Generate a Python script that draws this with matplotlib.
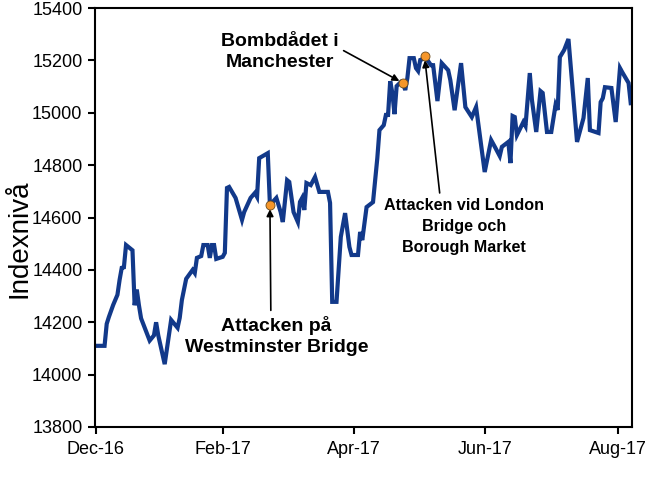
import matplotlib
matplotlib.use("Agg")
import matplotlib.pyplot as plt
import matplotlib.dates as mdates
import numpy as np
import pandas as pd

plt.rcParams['font.family'] = ['Liberation Sans', 'DejaVu Sans']

# Data
start_date = "2016-12-31"
day_offsets = [0, 4, 5, 6, 8, 10, 11, 12, 13, 14, 17, 18, 19, 20, 21, 25, 27, 28, 29, 32,
               35, 38, 39, 40, 42, 45, 46, 47, 49, 50, 52, 53, 54, 55, 56, 59, 60, 61, 62, 65,
               68, 69, 72, 74, 75, 76, 80, 81, 84, 86, 87, 89, 90, 92, 94, 95, 96, 97, 98, 100,
               102, 104, 108, 109, 110, 112, 114, 116, 118, 119, 122, 123, 124, 126, 129, 131, 132, 134, 135, 136,
               137, 138, 139, 140, 142, 143, 144, 145, 146, 148, 149, 150, 151, 152, 153, 156, 157, 159, 161, 164,
               165, 167, 170, 172, 175, 177, 181, 184, 186, 188, 189, 192, 193, 194, 195, 196, 199, 200, 202, 203,
               205, 207, 208, 210, 212, 214, 215, 216, 218, 220, 224, 227, 229, 230, 234, 235, 236, 237, 240, 242,
               244, 245, 248, 249]
index_values = [14110, 14110, 14194, 14220, 14266, 14305, 14362, 14408, 14410, 14495, 14475, 14265, 14325, 14265, 14215, 14130, 14150, 14200, 14150, 14040,
                14209, 14179, 14217, 14285, 14366, 14400, 14388, 14446, 14453, 14495, 14495, 14446, 14495, 14495, 14442, 14450, 14465, 14713, 14717, 14675,
                14591, 14621, 14675, 14694, 14679, 14827, 14846, 14648, 14675, 14621, 14583, 14743, 14736, 14621, 14583, 14660, 14675, 14629, 14732, 14724,
                14755, 14698, 14698, 14656, 14278, 14278, 14526, 14617, 14488, 14457, 14457, 14545, 14514, 14640, 14659, 14827, 14934, 14953, 14992, 14992,
                15121, 15076, 14995, 15102, 15118, 15114, 15087, 15133, 15209, 15209, 15171, 15160, 15202, 15205, 15217, 15182, 15182, 15045, 15190, 15163,
                15125, 15010, 15190, 15022, 14984, 15022, 14774, 14896, 14866, 14835, 14870, 14889, 14808, 14988, 14984, 14915, 14965, 14950, 15152, 15049,
                14927, 15083, 15076, 14927, 14927, 15030, 15011, 15213, 15240, 15282, 14889, 14980, 15133, 14934, 14923, 15041, 15056, 15098, 15095, 14965,
                15171, 15156, 15114, 15037]

event_days = [81, 143, 153]
event_labels = ["Attacken på\nWestminster Bridge", "Bombdådet i\nManchester",
                "Attacken vid London\nBridge och\nBorough Market"]
tick_dates = ["2016-12-31", "2017-02-28", "2017-04-30", "2017-06-30", "2017-08-31"]
y_ticks = list(range(13800, 15401, 200))
y_label = "Indexnivå"

dates = pd.Timestamp(start_date) + pd.to_timedelta(day_offsets, unit="D")
series = pd.Series(index_values, index=dates)
ev_dates = pd.Timestamp(start_date) + pd.to_timedelta(event_days, unit="D")
ev_vals = [series[d] for d in ev_dates]

fig = plt.figure(figsize=(6.5, 4.79), dpi=100)
ax = fig.add_axes([0.146, 0.1086, 0.826, 0.8744])

ax.plot(series.index, series.values, color="#12398a", lw=3.0, solid_joinstyle="miter", zorder=2)
ax.scatter(ev_dates, ev_vals, s=42, color="#f5962a", edgecolor="#6b4a1a", linewidth=0.6, zorder=4)

ax.set_ylim(13800, 15400)
ax.set_yticks(y_ticks)
x0 = pd.Timestamp(start_date) - pd.Timedelta(days=0.5)
x1 = pd.Timestamp(start_date) + pd.Timedelta(days=249.5)
ax.set_xlim(x0, x1)
ax.set_xticks(pd.to_datetime(tick_dates))
ax.xaxis.set_major_formatter(mdates.DateFormatter("%b-%y"))

for s in ax.spines.values():
    s.set_linewidth(1.5)
    s.set_color("black")
ax.tick_params(axis="both", direction="out", length=5, width=1.5, labelsize=13, colors="black")
ax.tick_params(axis="x", pad=5)
ax.tick_params(axis="y", pad=4)
ax.set_ylabel(y_label, fontsize=20, va="center")
ax.yaxis.set_label_coords(-0.14, 0.45)

arrow = dict(arrowstyle="-|>", color="black", lw=1.2, mutation_scale=10, shrinkA=2, shrinkB=3)
# Westminster
ax.annotate(event_labels[0], xy=(ev_dates[0], ev_vals[0]),
            xytext=(pd.Timestamp(start_date) + pd.Timedelta(days=84), 14148),
            ha="center", va="center", fontsize=14, fontweight="bold", linespacing=1.3,
            arrowprops=dict(arrow, relpos=(0.47, 1.0)))
# Manchester
ax.annotate(event_labels[1], xy=(ev_dates[1], ev_vals[1]),
            xytext=(pd.Timestamp(start_date) + pd.Timedelta(days=85.5), 15234),
            ha="center", va="center", fontsize=14, fontweight="bold", linespacing=1.3,
            arrowprops=dict(arrow, relpos=(1.0, 0.6)))
# London Bridge
ax.annotate(event_labels[2], xy=(ev_dates[2], ev_vals[2]),
            xytext=(pd.Timestamp(start_date) + pd.Timedelta(days=171.5), 14564),
            ha="center", va="center", fontsize=11.6, fontweight="bold", linespacing=1.5,
            arrowprops=dict(arrow, relpos=(0.35, 1.0)))

fig.savefig("out.png", dpi=100)
